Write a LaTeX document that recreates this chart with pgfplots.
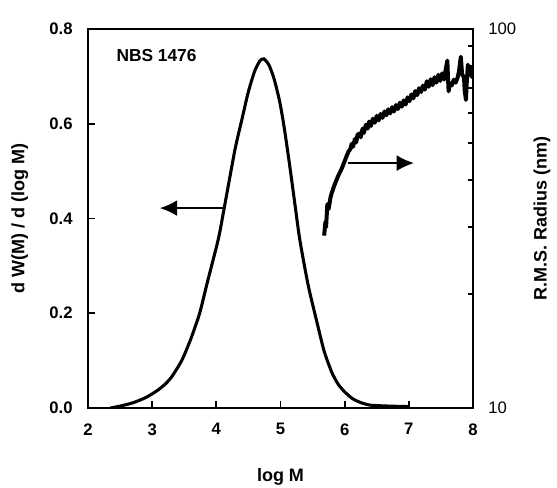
\documentclass[border=0pt]{standalone}
\usepackage{pgfplots}
\pgfplotsset{compat=1.18}
\usepackage{fontspec}
\setmainfont{Liberation Sans}
\usetikzlibrary{arrows.meta}

% molecular weight distribution, NBS 1476
\pgfplotstableread{
lm w
2.35 0.000
2.50 0.004
2.70 0.011
2.90 0.022
3.07 0.036
3.20 0.050
3.30 0.065
3.46 0.100
3.60 0.145
3.74 0.200
3.85 0.260
4.03 0.356
4.12 0.420
4.29 0.545
4.40 0.610
4.50 0.668
4.60 0.712
4.68 0.733
4.74 0.737
4.82 0.724
4.90 0.695
4.99 0.645
5.06 0.590
5.14 0.515
5.22 0.435
5.30 0.356
5.43 0.260
5.57 0.180
5.68 0.120
5.80 0.075
5.90 0.050
6.00 0.034
6.12 0.020
6.24 0.012
6.40 0.006
6.70 0.004
7.00 0.003
}\mwd

% r.m.s. radius (nm)
\pgfplotstableread{
lm r
5.68 28.5
5.70 31.0
5.71 30.0
5.73 34.5
5.75 33.5
5.78 36.0
5.80 37.0
5.83 38.3
5.86 39.5
5.90 41.0
5.94 42.3
5.97 43.5
6.00 44.8
6.03 46.2
6.06 47.5
6.09 48.3
6.11 49.8
6.13 48.9
6.16 51.3
6.18 50.2
6.20 52.6
6.23 53.0
6.25 51.8
6.28 54.6
6.30 53.2
6.33 55.9
6.36 54.6
6.38 57.0
6.41 55.5
6.44 58.0
6.47 56.6
6.50 59.0
6.53 57.4
6.56 59.7
6.59 58.3
6.62 60.6
6.65 59.2
6.68 61.4
6.71 59.9
6.74 62.2
6.77 60.6
6.80 63.0
6.83 61.5
6.86 63.9
6.89 62.4
6.92 64.8
6.95 63.2
6.98 66.0
7.01 64.5
7.04 67.2
7.07 65.6
7.10 68.6
7.13 66.9
7.16 69.8
7.19 68.2
7.22 70.9
7.25 69.2
7.28 72.8
7.31 70.4
7.34 73.7
7.37 71.1
7.40 74.6
7.43 72.2
7.46 75.7
7.49 73.0
7.52 76.4
7.55 73.6
7.57 77.5
7.60 82.5
7.61 74.5
7.62 68.5
7.64 72.0
7.67 71.0
7.70 73.5
7.73 72.2
7.76 74.5
7.78 77.0
7.81 84.5
7.83 76.0
7.86 74.5
7.87 69.0
7.89 65.0
7.90 71.0
7.92 80.5
7.94 76.0
7.96 79.5
7.98 74.8
8.00 78.8
}\rms

\pgfplotsset{
  common/.style={
    width=288.75pt, height=284.25pt, scale only axis,
    at={(0,0)}, anchor=south west,
    xmin=2, xmax=8,
    tick style={line width=1.3pt, black},
    tick align=inside,
    major tick length=5pt,
    minor tick length=4pt,
    ticklabel style={font=\fontsize{12.5}{14}\selectfont},
    /pgf/number format/assume math mode=true,
  },
}

\begin{document}
\begin{tikzpicture}
\useasboundingbox (-66pt,-59.25pt) rectangle (351.75pt,306pt);
\begin{axis}[
  common,
  axis background/.style={draw=black, line width=2.2pt},
  ymin=0, ymax=0.8,
  xtick={2,3,4,5,6,7,8},
  ytick={0,0.2,0.4,0.6,0.8},
  xtick pos=bottom, ytick pos=left,
  ticklabel style={font=\bfseries\fontsize{12.5}{14}\selectfont},
  /pgf/number format/fixed, /pgf/number format/fixed zerofill, /pgf/number format/precision=1,
  xticklabel style={yshift=-8pt, /pgf/number format/precision=0},
  yticklabel style={xshift=-8pt},
  xlabel={log M},
  ylabel={d W(M) / d (log M)},
  every axis x label/.style={at={(axis description cs:0.5,-0.182)}, anchor=center,
    font=\bfseries\fontsize{13.5}{15}\selectfont},
  every axis y label/.style={at={(axis description cs:-0.177,0.5)}, rotate=90, anchor=center,
    font=\bfseries\fontsize{13.5}{15}\selectfont},
]
\addplot[black, line width=2.3pt, smooth, tension=0.4] table[x=lm, y=w] {\mwd};
\draw[line width=1.3pt, -{Latex[length=13pt, width=12pt]}] (axis cs:4.12,0.422) -- (axis cs:3.12,0.422);
\draw[line width=1.3pt, -{Latex[length=13pt, width=12pt]}] (axis cs:6.05,0.517) -- (axis cs:7.08,0.517);
\node[anchor=west, font=\bfseries\fontsize{13}{15}\selectfont] at (axis description cs:0.062,0.931) {NBS 1476};
\end{axis}
\begin{axis}[
  common,
  ymode=log, ymin=10, ymax=100,
  axis x line=none,
  axis y line*=right,
  axis line style={line width=2.2pt},
  ytick={10,100}, yticklabels={10,100},
  minor ytick={20,30,40,50,60,70,80,90},
  yticklabel style={xshift=8pt},
  ylabel={R.M.S. Radius (nm)},
  every axis y label/.style={at={(axis description cs:1.179,0.5)}, rotate=90, anchor=center,
    font=\bfseries\fontsize{13.5}{15}\selectfont},
]
\addplot[black, line width=3pt, line join=round] table[x=lm, y=r] {\rms};
\end{axis}
\end{tikzpicture}
\end{document}
